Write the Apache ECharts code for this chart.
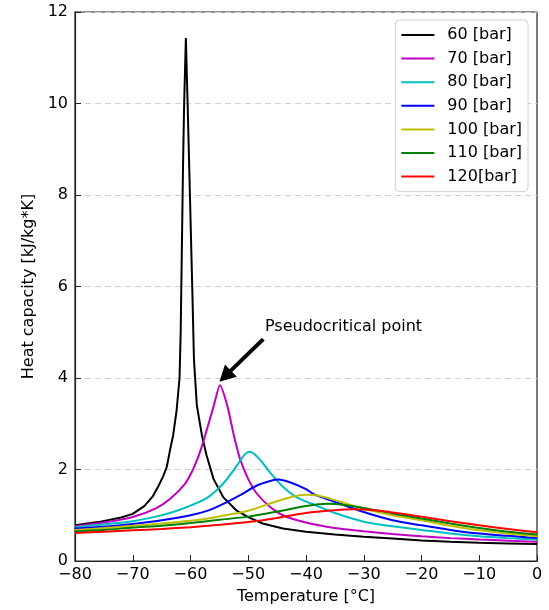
<!DOCTYPE html>
<html>
<head>
<meta charset="utf-8">
<script src="https://cdn.jsdelivr.net/npm/echarts@6/dist/echarts.min.js"></script>
<style>html,body{margin:0;padding:0;background:#fff;}#c{width:549px;height:610px;}</style>
</head>
<body>
<div id="c"></div>
<script>
// Series names
const seriesNames = ['60 [bar]', '70 [bar]', '80 [bar]', '90 [bar]', '100 [bar]', '110 [bar]', '120[bar]'];
const seriesColors = ['#000000', '#bf00bf', '#00bfbf', '#0000ff', '#bfbf00', '#008000', '#ff0000'];

// [temperature °C, heat capacity kJ/kg*K]
const cp60 = [[-80,0.78],[-76,0.85],[-72,0.95],[-70,1.03],[-68,1.2],[-66.5,1.42],[-65.5,1.65],[-64.7,1.86],[-64.1,2.06],[-63.5,2.45],[-63,2.75],[-62.4,3.3],[-61.9,4.0],[-61.7,5.0],[-61.5,6.8],[-61.3,8.6],[-61.1,10],[-60.8,11.43],[-60.5,10],[-60.1,8],[-59.7,6],[-59.4,4.4],[-58.9,3.4],[-58,2.73],[-57.2,2.3],[-56,1.79],[-54.3,1.39],[-52,1.1],[-50,0.96],[-47.5,0.82],[-44,0.71],[-40,0.64],[-35,0.58],[-30,0.53],[-25,0.49],[-20,0.45],[-15,0.42],[-10,0.4],[-5,0.385],[0,0.37]];
const cp70 = [[-80,0.76],[-75,0.84],[-70,0.96],[-66,1.15],[-63.5,1.36],[-61,1.68],[-59.8,1.94],[-58.6,2.3],[-57.8,2.6],[-56,3.38],[-54.9,3.84],[-53.6,3.38],[-52.5,2.75],[-51.4,2.22],[-50,1.79],[-48.5,1.47],[-46.2,1.18],[-44,1.0],[-40,0.84],[-35,0.72],[-30,0.65],[-25,0.59],[-20,0.54],[-15,0.5],[-10,0.47],[-5,0.445],[0,0.42]];
const cp80 = [[-80,0.74],[-75,0.8],[-70,0.87],[-66,0.97],[-63,1.07],[-60,1.21],[-57,1.39],[-54.3,1.7],[-52,2.08],[-50.6,2.33],[-49.7,2.39],[-48,2.22],[-46.2,1.93],[-43.9,1.61],[-41.6,1.39],[-38,1.2],[-35,1.05],[-30,0.86],[-25,0.76],[-20,0.68],[-15,0.6],[-10,0.54],[-5,0.5],[0,0.47]];
const cp90 = [[-80,0.71],[-75,0.75],[-70,0.81],[-65,0.89],[-60,1.0],[-57,1.1],[-54.3,1.25],[-51.4,1.44],[-48.5,1.65],[-46.2,1.75],[-44.8,1.78],[-42.8,1.72],[-40,1.57],[-38.5,1.45],[-34.7,1.28],[-30,1.07],[-25,0.89],[-20,0.78],[-15,0.68],[-10,0.6],[-5,0.55],[0,0.5]];
const cp100 = [[-80,0.68],[-75,0.72],[-70,0.77],[-65,0.82],[-60,0.88],[-57,0.93],[-54,1.0],[-50,1.1],[-45.7,1.28],[-42.8,1.39],[-40.1,1.45],[-38,1.43],[-34.7,1.32],[-30,1.14],[-25,1.0],[-20,0.89],[-15,0.77],[-10,0.67],[-5,0.6],[0,0.54]];
const cp110 = [[-80,0.65],[-75,0.68],[-70,0.73],[-65,0.77],[-60,0.83],[-55,0.9],[-50,0.97],[-45,1.08],[-40,1.2],[-36.3,1.25],[-33,1.22],[-30,1.16],[-25,1.04],[-20,0.93],[-15,0.82],[-10,0.72],[-5,0.64],[0,0.58]];
const cp120 = [[-80,0.61],[-75,0.64],[-70,0.67],[-65,0.7],[-60,0.74],[-55,0.79],[-50,0.85],[-45,0.94],[-40,1.05],[-35,1.11],[-32,1.13],[-28,1.11],[-25,1.06],[-20,0.97],[-15,0.87],[-10,0.78],[-5,0.7],[0,0.63]];
const allData = [cp60, cp70, cp80, cp90, cp100, cp110, cp120];
const smoothing = [false, 0.2, 0.3, 0.3, 0.3, 0.3, 0.3];

// Annotation
const annotText = 'Pseudocritical point';
const arrowTail = [-47.4, 4.85];
const arrowHead = [-54.0, 4.04];
const textAnchor = [-47.1, 5.11];

const font = 'DejaVu Sans';
const fs = 16;
const minusFmt = v => v < 0 ? '\u2212' + (-v) : String(v);

const series = allData.map((d, i) => ({
  name: seriesNames[i],
  type: 'line',
  data: d,
  smooth: smoothing[i],
  showSymbol: false,
  symbol: 'none',
  lineStyle: { color: seriesColors[i], width: 2 },
  itemStyle: { color: seriesColors[i] },
  z: 2 + i,
  animation: false
}));

series.push({
  name: 'annot',
  type: 'line',
  data: [],
  animation: false,
  markLine: {
    silent: true,
    symbol: ['none', 'triangle'],
    symbolSize: [17, 16],
    lineStyle: { color: '#000', width: 4, type: 'solid' },
    itemStyle: { color: '#000' },
    label: { show: false },
    data: [[{ coord: arrowTail }, { coord: arrowHead }]]
  },
  markPoint: {
    silent: true,
    symbol: 'circle',
    symbolSize: 0,
    data: [{ coord: textAnchor, value: annotText }],
    label: {
      show: true,
      position: 'right',
      distance: 0,
      formatter: annotText,
      color: '#000',
      fontFamily: font,
      fontSize: fs
    }
  }
});

const chart = echarts.init(document.getElementById('c'), null, { renderer: 'canvas' });
chart.setOption({
  backgroundColor: '#fff',
  animation: false,
  grid: { left: 75, right: 12, top: 12, bottom: 44, show: true, borderColor: '#222', borderWidth: 1.2, backgroundColor: 'transparent' },
  legend: {
    data: seriesNames,
    orient: 'vertical',
    right: 21,
    top: 20,
    icon: 'rect',
    itemWidth: 33,
    itemHeight: 2,
    itemGap: 3.6,
    padding: [5, 6, 5, 6],
    backgroundColor: '#fff',
    borderColor: '#d0d0d0',
    borderWidth: 1,
    borderRadius: 4,
    textStyle: { fontFamily: font, fontSize: fs, color: '#000', lineHeight: 20, padding: [0, 0, 0, 8] }
  },
  xAxis: {
    type: 'value',
    min: -80, max: 0, interval: 10,
    name: 'Temperature [°C]',
    nameLocation: 'middle',
    nameGap: 28,
    nameTextStyle: { fontFamily: font, fontSize: fs, color: '#000' },
    axisLine: { show: true, onZero: false, lineStyle: { color: '#222', width: 1.2 } },
    axisTick: { show: true, inside: true, length: 6, lineStyle: { color: '#222' } },
    axisLabel: { fontFamily: font, fontSize: fs, color: '#000', margin: 6, formatter: minusFmt },
    splitLine: { show: false }
  },
  yAxis: {
    type: 'value',
    min: 0, max: 12, interval: 2,
    name: 'Heat capacity [kJ/kg*K]',
    nameLocation: 'middle',
    nameGap: 31,
    nameTextStyle: { fontFamily: font, fontSize: fs, color: '#000' },
    axisLine: { show: true, onZero: false, lineStyle: { color: '#222', width: 1.2 } },
    axisTick: { show: true, inside: true, length: 6, lineStyle: { color: '#222' } },
    axisLabel: { fontFamily: font, fontSize: fs, color: '#000', margin: 7, formatter: minusFmt },
    splitLine: { show: true, lineStyle: { color: '#cfcfcf', width: 1, type: [6, 4] } }
  },
  series: series
});
</script>
</body>
</html>
